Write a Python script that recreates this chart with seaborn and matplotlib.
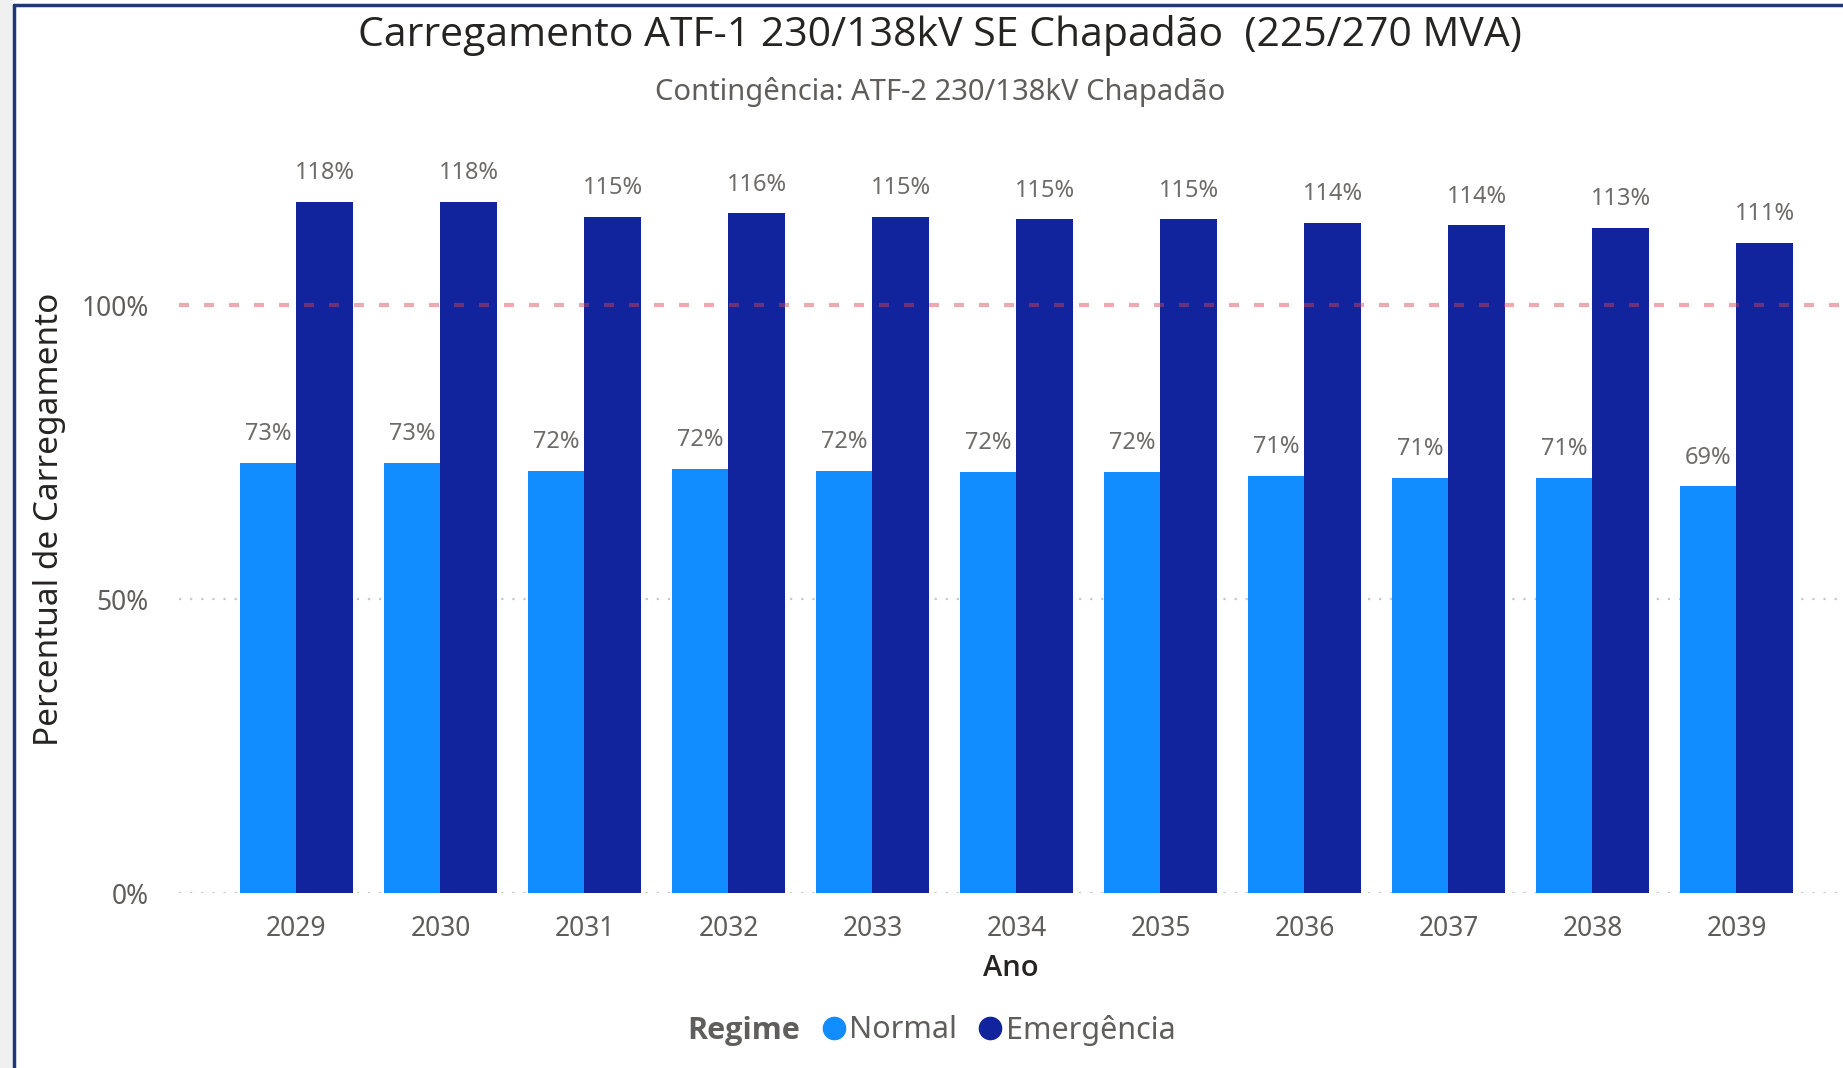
import numpy as np
import pandas as pd
import seaborn as sns
import matplotlib.pyplot as plt
from matplotlib.lines import Line2D
from matplotlib.patches import Rectangle


anos = ['2029', '2030', '2031', '2032', '2033', '2034', '2035', '2036', '2037', '2038', '2039']
normal = [73.2, 73.2, 71.8, 72.2, 71.8, 71.6, 71.6, 71.0, 70.6, 70.6, 69.2]
emergencia = [117.6, 117.6, 115.0, 115.6, 115.0, 114.6, 114.6, 114.0, 113.6, 113.2, 110.6]
regimes = ['Normal', 'Emergência']
cores = ['#118DFF', '#12239E']

df = pd.DataFrame({
    'Ano': anos * 2,
    'Regime': [regimes[0]] * len(anos) + [regimes[1]] * len(anos),
    'Valor': normal + emergencia,
})

sns.set_theme(style='white')
plt.rcParams['font.family'] = ['Noto Sans', 'DejaVu Sans']

fig = plt.figure(figsize=(18.43, 10.68), dpi=100)
ax = fig.add_axes([179 / 1843, 1 - 893 / 1068, 1 - 179 / 1843, 0.688])

sns.barplot(data=df, x='Ano', y='Valor', hue='Regime', palette=cores,
            width=0.78, saturation=1, linewidth=0, ax=ax, legend=False, zorder=2)

for cont in ax.containers:
    ax.bar_label(cont, labels=[f'{v:.0f}%' for v in cont.datavalues],
                 padding=12, fontsize=17, color='#6E6C6A')

# grid / reference line
for y in [0, 50]:
    ax.axhline(y, color='#C8C8C8', lw=1.6, ls=(0, (1, 4)), zorder=1)
ax.axhline(100, color='#D64550', alpha=0.45, lw=3, ls=(0, (2.4, 3.6)), zorder=3)

ax.set_ylim(0, 125)
ax.set_xlim(-0.816, 10.74)
ax.set_yticks([0, 50, 100])
ax.set_yticklabels(['0%', '50%', '100%'])
ax.tick_params(axis='both', labelsize=19, colors='#605E5C', length=0, pad=16)
ax.tick_params(axis='y', pad=22)
sns.despine(ax=ax, left=True, bottom=True)

ax.set_xlabel('Ano', fontsize=21, color='#252423', fontweight='semibold',
              family='Open Sans', labelpad=8)
ax.set_ylabel('Percentual de Carregamento', fontsize=24, color='#252423')
ax.yaxis.set_label_coords(-0.068, 0.509)

fig.text(940 / 1843, 1 - 36 / 1068, 'Carregamento ATF-1 230/138kV SE Chapadão  (225/270 MVA)',
         ha='center', va='center', fontsize=29.5, color='#252423', fontweight='medium',
         family='Open Sans')
fig.text(940 / 1843, 1 - 92 / 1068, 'Contingência: ATF-2 230/138kV Chapadão',
         ha='center', va='center', fontsize=21, color='#605E5C')

# legend
handles = [Line2D([], [], ls='', marker='')] + [
    Line2D([], [], ls='', marker='o', markersize=16, color=c) for c in cores]
leg = fig.legend(handles, ['Regime'] + regimes, loc='center', ncol=3,
                 bbox_to_anchor=(916 / 1843, 1 - 1030 / 1068), frameon=False,
                 fontsize=22, handletextpad=0.0, columnspacing=0.6, handlelength=1.0,
                 labelcolor='#605E5C')
leg.get_texts()[0].set_fontweight('bold')
leg.get_texts()[0].set_family('Open Sans')

# report frame
fig.patches.append(Rectangle((0, 0), 12 / 1843, 1, transform=fig.transFigure,
                             color='#F0F0F0', zorder=0))
fig.lines.append(Line2D([14 / 1843, 14 / 1843], [0, 1 - 5 / 1068], transform=fig.transFigure,
                        color='#1F3A70', lw=2.5))
fig.lines.append(Line2D([14 / 1843, 1], [1 - 5 / 1068, 1 - 5 / 1068], transform=fig.transFigure,
                        color='#1F3A70', lw=2.5))

fig.savefig('out.png', dpi=100)
